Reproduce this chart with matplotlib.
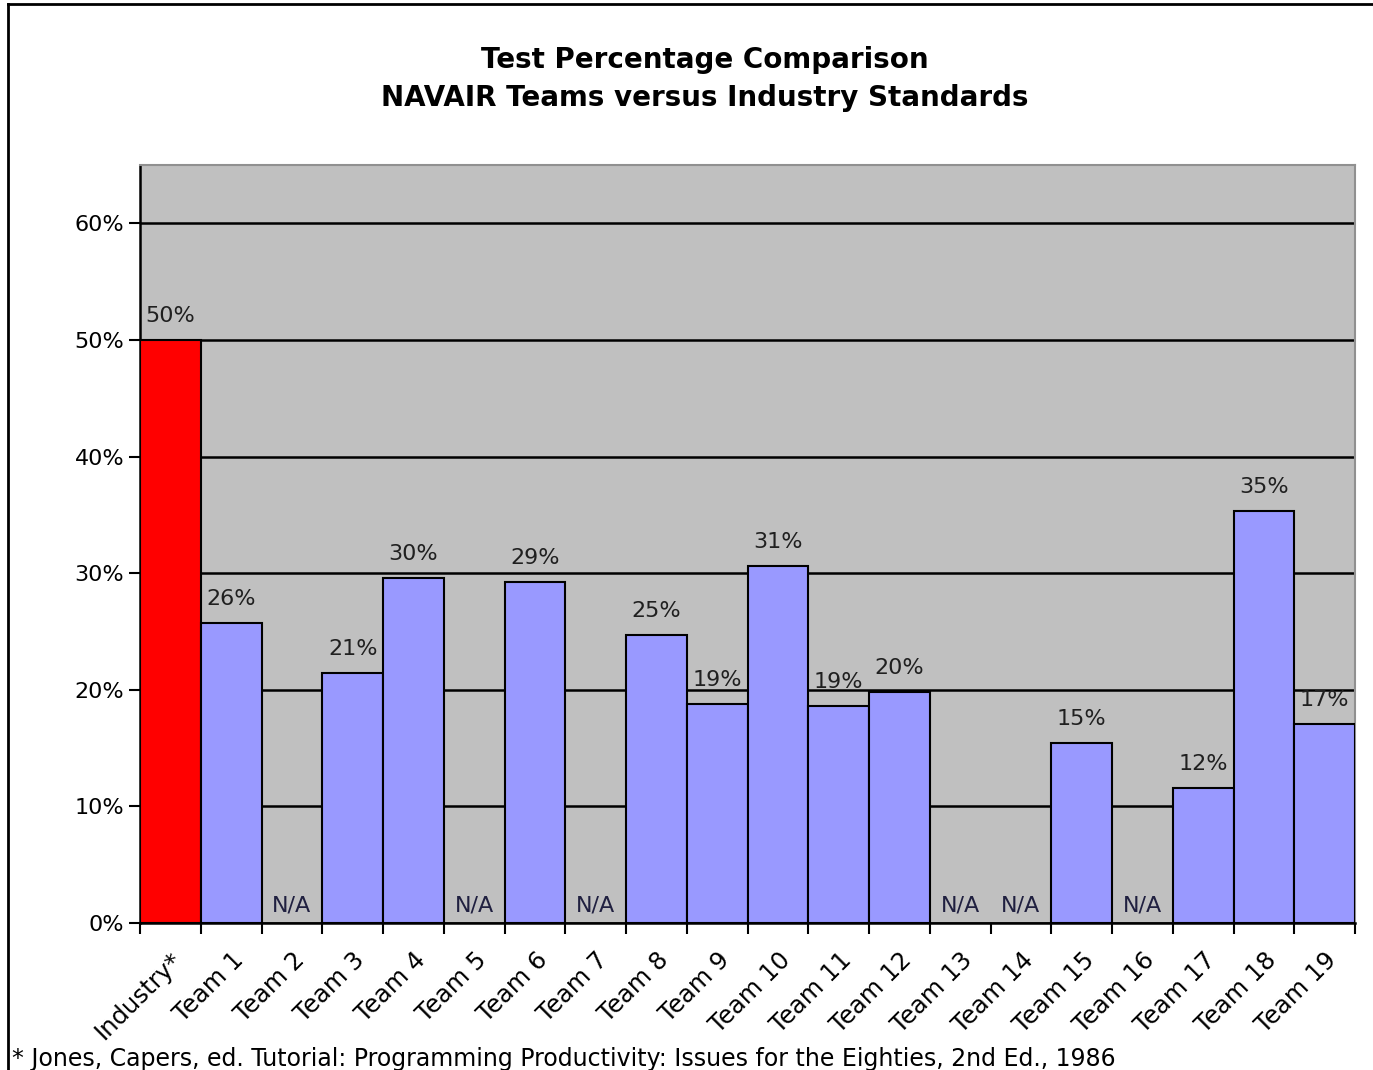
import numpy as np
import matplotlib
matplotlib.use("Agg")
import matplotlib.pyplot as plt
from matplotlib.lines import Line2D

categories = ["Industry*", "Team 1", "Team 2", "Team 3", "Team 4", "Team 5", "Team 6",
              "Team 7", "Team 8", "Team 9", "Team 10", "Team 11", "Team 12", "Team 13",
              "Team 14", "Team 15", "Team 16", "Team 17", "Team 18", "Team 19"]
# None = N/A
values = [50.0, 25.7, None, 21.4, 29.6, None, 29.2, None, 24.7, 18.8, 30.6,
          18.6, 19.8, None, None, 15.4, None, 11.6, 35.3, 17.1]
yticks = [0, 10, 20, 30, 40, 50, 60]

plt.rcParams['font.family'] = ['DejaVu Sans']

fig = plt.figure(figsize=(13.73, 10.70), dpi=100)
ax = fig.add_axes([0.102, 0.1374, 0.885, 0.7084])
ax.set_facecolor('#C0C0C0')

x = np.arange(len(categories))
for i, v in enumerate(values):
    if v is None:
        ax.text(i, 0.6, "N/A", ha='center', va='bottom', fontsize=16, color='#202040')
        continue
    color = '#FF0000' if i == 0 else '#9999FF'
    ax.bar(i, v, width=1.0, color=color, edgecolor='black', linewidth=1.5, zorder=3)
    ax.text(i, v + 1.2, f"{v:.0f}%", ha='center', va='bottom', fontsize=16,
            color='#202020', zorder=4)

ax.set_xlim(-0.5, len(categories) - 0.5)
ax.set_ylim(0, 65)

ax.set_yticks(yticks)
ax.set_yticklabels([f"{t}%" for t in yticks], fontsize=16)
ax.yaxis.grid(True, color='black', linewidth=1.8, zorder=1)
ax.set_axisbelow(True)

# ticks at category boundaries, labels at centres
ax.set_xticks(np.arange(len(categories) + 1) - 0.5)
ax.set_xticklabels([])
ax.set_xticks(x, minor=True)
ax.set_xticklabels(categories, minor=True, rotation=45, ha='right',
                   rotation_mode='anchor', fontsize=17.5)
ax.tick_params(axis='x', which='minor', length=0, pad=18)
ax.tick_params(axis='both', which='major', length=8, width=1.5, direction='out')

for side in ['left', 'bottom']:
    ax.spines[side].set_linewidth(1.8)
    ax.spines[side].set_color('black')
for side in ['top', 'right']:
    ax.spines[side].set_linewidth(1.5)
    ax.spines[side].set_color('#909090')

fig.text(0.513, 0.944, "Test Percentage Comparison", ha='center', va='center',
         fontsize=20, fontweight='bold')
fig.text(0.513, 0.908, "NAVAIR Teams versus Industry Standards", ha='center',
         va='center', fontsize=20, fontweight='bold')

fig.text(0.009, 0.010, "* Jones, Capers, ed. Tutorial: Programming Productivity: "
         "Issues for the Eighties, 2nd Ed., 1986", ha='left', va='center', fontsize=17)

# outer frame (left and top edge)
fig.add_artist(Line2D([0.006, 0.006], [0, 0.996], color='black', linewidth=2,
                      transform=fig.transFigure))
fig.add_artist(Line2D([0.006, 1.0], [0.996, 0.996], color='black', linewidth=2,
                      transform=fig.transFigure))

fig.savefig("out.png", dpi=100)
